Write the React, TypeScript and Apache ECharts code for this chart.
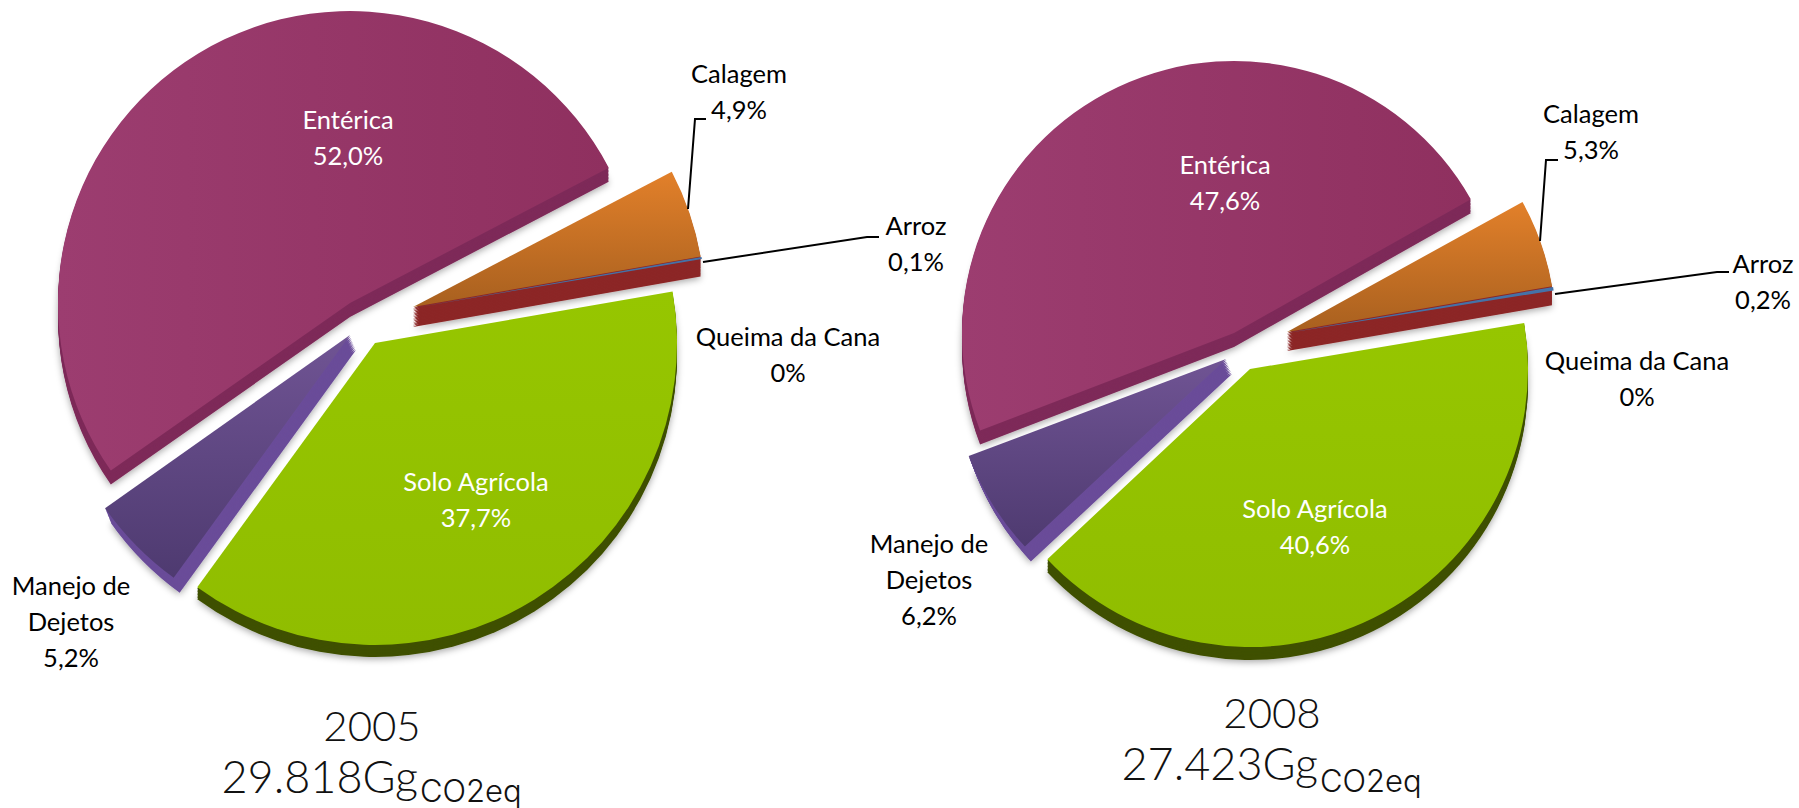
import React, { useEffect, useRef } from "react";
import * as echarts from "echarts";

const categories = ["Entérica", "Calagem", "Arroz", "Queima da Cana", "Solo Agrícola", "Manejo de\nDejetos"];
const values2005 = [52.0, 4.9, 0.1, 0, 37.7, 5.2];
const values2008 = [47.6, 5.3, 0.2, 0, 40.6, 6.2];
const years = ["2005", "2008"];
const totals = ["29.818Gg", "27.423Gg"];
const totalUnit = "CO2eq";

const labelFont = "Lato, Carlito, 'Open Sans', sans-serif";
const titleFont = "Lato, 'Noto Sans', sans-serif";
const unitFont = "Inter, 'Noto Sans', sans-serif";

// Look of each slice, in category order: first colour, last colour, gradient end point
const tops: any[] = [
  ["#9c3d70", "#8f305f", 1, 0],
  ["#e2802a", "#a8601f", 0, 1],
  ["#4472a8", "#4472a8", 0, 1],
  ["#8c2626", "#8c2626", 0, 1],
  ["#96c600", "#90bd00", 0, 1],
  ["#705494", "#4e3a70", 0, 1],
];
const sides = ["#7e2a59", "#8c2626", null, null, "#3f5000", "#6a4c99"];
const textColors = ["#fff", "#000", "#000", "#000", "#fff", "#000"];

// Layout of each slice: centre, radius, angle where the slice starts, side offset, label position
const layout2005 = [
  { c: [350, 303], r: 292, a: 215, d: [0, 14], l: [348, 137] },
  { c: [413, 307], r: 292, a: 27.6, d: [0, 20], l: [739, 91] },
  { c: [413, 308], r: 293, a: 10.0, d: [0, 0], l: [916, 243] },
  { c: [413, 308], r: 293, a: 9.6, d: [0, 0], l: [788, 354] },
  { c: [375, 343], r: 302, a: 9.8, d: [0, 12], l: [476, 499] },
  { c: [350, 335], r: 300, a: 234, d: [6, 15], l: [71, 621] },
];
const layout2008 = [
  { c: [1234, 333], r: 272, a: 201, d: [0, 14], l: [1225, 182] },
  { c: [1287, 332], r: 269, a: 28.9, d: [0, 19], l: [1591, 131] },
  { c: [1287, 333], r: 270, a: 9.8, d: [0, 0], l: [1763, 281] },
  { c: [1287, 333], r: 270, a: 9.1, d: [0, 0], l: [1637, 378] },
  { c: [1250, 369], r: 278, a: 9.5, d: [0, 13], l: [1315, 526] },
  { c: [1226, 359], r: 275, a: 223, d: [6, 15], l: [929, 579] },
];
const leaders = [
  [[706, 119], [695, 119], [688, 209]],
  [[879, 237], [867, 237], [703, 262]],
  [[1558, 160], [1546, 160], [1540, 241]],
  [[1729, 272], [1717, 272], [1555, 294]],
];
const titlePos = [
  { x: 372, y1: 725, y2: 776, split: 418, yu: 790 },
  { x: 1272, y1: 712, y2: 763, split: 1318, yu: 780 },
];

const fmt = (v: number) => (v === 0 ? "0%" : v.toFixed(1).replace(".", ",") + "%");
const clear = "rgba(0,0,0,0)";

function sliceSeries(values: number[], lay: any[], idx: number, frac: number, shadow: boolean) {
  const side = frac > 0;
  const sum = values.reduce((s, v) => s + v, 0);
  const before = values.slice(0, idx).reduce((s, v) => s + v, 0);
  const L = lay[idx];
  const startAngle = (L.a + (before / sum) * 360 + 720) % 360;
  const color = side
    ? sides[idx]
    : { type: "linear", x: 0, y: 0, x2: tops[idx][2], y2: tops[idx][3], colorStops: [{ offset: 0, color: tops[idx][0] }, { offset: 1, color: tops[idx][1] }] };
  return {
    type: "pie",
    silent: true,
    clockwise: true,
    startAngle,
    center: [L.c[0] + L.d[0] * frac, L.c[1] + L.d[1] * frac],
    radius: [0, L.r],
    avoidLabelOverlap: false,
    labelLine: { show: false },
    labelLayout: { x: L.l[0], y: L.l[1], align: "center", verticalAlign: "middle", hideOverlap: false },
    emphasis: { disabled: true },
    data: values.map((v, i) => ({
      name: categories[i],
      value: v,
      itemStyle:
        i === idx
          ? shadow
            ? { color, shadowBlur: 7, shadowColor: "rgba(0,0,0,0.35)", shadowOffsetY: 2 }
            : { color }
          : { color: clear, borderWidth: 0 },
      label:
        i === idx && !side
          ? {
              show: true,
              position: "inside",
              formatter: () => `${categories[i]}\n${fmt(v)}`,
              fontFamily: labelFont,
              fontSize: 25.5,
              lineHeight: 36,
              color: textColors[i],
              align: "center",
            }
          : { show: false },
    })),
  };
}

export default function App() {
  const ref = useRef<HTMLDivElement>(null);
  useEffect(() => {
    document.body.style.margin = "0";
    const chart = echarts.init(ref.current!, null, { renderer: "svg" });
    const series: any[] = [];
    [
      [values2005, layout2005],
      [values2008, layout2008],
    ].forEach(([vals, lay]: any) => {
      vals.forEach((_: number, i: number) => {
        if (!sides[i]) return;
        // the slice's thickness: stacked copies, deepest first
        const n = Math.ceil(Math.hypot(lay[i].d[0], lay[i].d[1]) / 1.5);
        for (let k = n; k >= 1; k--) series.push(sliceSeries(vals, lay, i, k / n, k === n));
      });
      vals.forEach((_: number, i: number) => {
        series.push(sliceSeries(vals, lay, i, 0, false));
      });
    });
    const graphic: any[] = [];
    leaders.forEach((pts) => {
      graphic.push({ type: "polyline", shape: { points: pts }, style: { stroke: "#000", lineWidth: 2, fill: "none" }, z: 50 });
    });
    years.forEach((y, i) => {
      const p = titlePos[i];
      graphic.push({ type: "text", x: p.x, y: p.y1, z: 50, style: { text: y, font: `300 42px ${titleFont}`, fill: "#111", align: "center", verticalAlign: "middle" } });
      graphic.push({ type: "text", x: p.split, y: p.y2, z: 50, style: { text: totals[i], font: `300 45px ${titleFont}`, fill: "#111", align: "right", verticalAlign: "middle" } });
      graphic.push({ type: "text", x: p.split + 2, y: p.yu, z: 50, style: { text: totalUnit, font: `300 31px ${unitFont}`, fill: "#111", align: "left", verticalAlign: "middle" } });
    });
    chart.setOption({ animation: false, backgroundColor: "#fff", series, graphic });
    return () => chart.dispose();
  }, []);
  return <div ref={ref} style={{ position: "absolute", left: 0, top: 0, width: 1799, height: 808 }} />;
}
